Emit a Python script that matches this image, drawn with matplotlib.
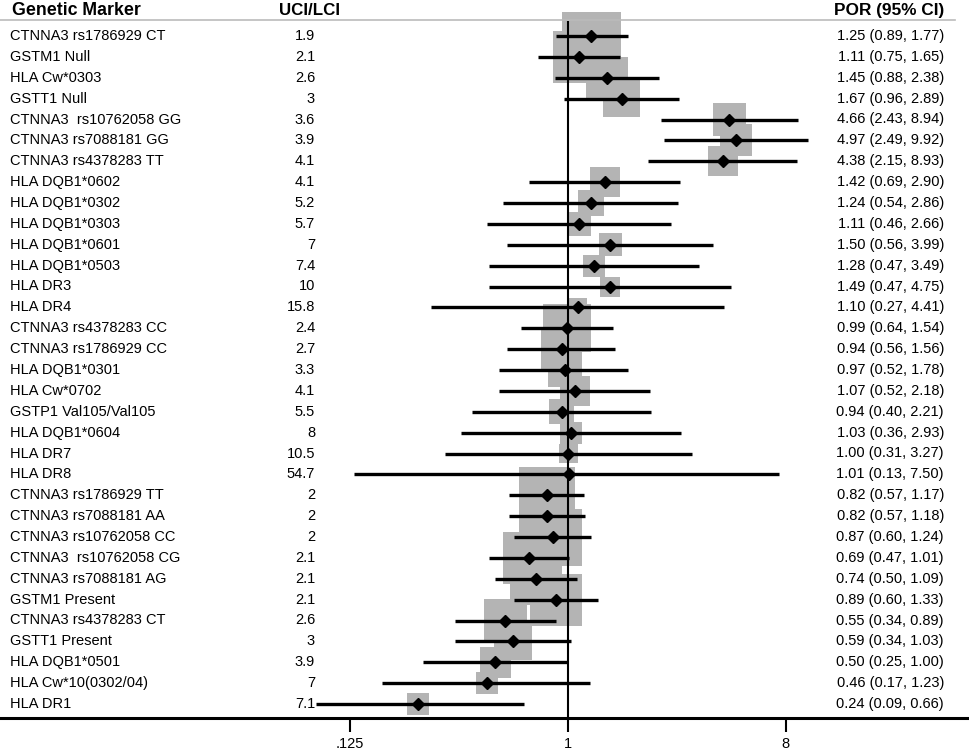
import numpy as np
import matplotlib
matplotlib.use("Agg")
import matplotlib.pyplot as plt
from matplotlib.lines import Line2D
import matplotlib.transforms as mtransforms

plt.rcParams['font.family'] = ['Liberation Sans', 'DejaVu Sans']

markers = ["CTNNA3 rs1786929 CT", "GSTM1 Null", "HLA Cw*0303", "GSTT1 Null",
           "CTNNA3  rs10762058 GG", "CTNNA3 rs7088181 GG", "CTNNA3 rs4378283 TT",
           "HLA DQB1*0602", "HLA DQB1*0302", "HLA DQB1*0303", "HLA DQB1*0601",
           "HLA DQB1*0503", "HLA DR3", "HLA DR4", "CTNNA3 rs4378283 CC",
           "CTNNA3 rs1786929 CC", "HLA DQB1*0301", "HLA Cw*0702", "GSTP1 Val105/Val105",
           "HLA DQB1*0604", "HLA DR7", "HLA DR8", "CTNNA3 rs1786929 TT",
           "CTNNA3 rs7088181 AA", "CTNNA3 rs10762058 CC", "CTNNA3  rs10762058 CG",
           "CTNNA3 rs7088181 AG", "GSTM1 Present", "CTNNA3 rs4378283 CT",
           "GSTT1 Present", "HLA DQB1*0501", "HLA Cw*10(0302/04)", "HLA DR1"]
ratio = ["1.9", "2.1", "2.6", "3", "3.6", "3.9", "4.1", "4.1", "5.2", "5.7", "7", "7.4",
         "10", "15.8", "2.4", "2.7", "3.3", "4.1", "5.5", "8", "10.5", "54.7", "2", "2",
         "2", "2.1", "2.1", "2.1", "2.6", "3", "3.9", "7", "7.1"]
por = [1.25, 1.11, 1.45, 1.67, 4.66, 4.97, 4.38, 1.42, 1.24, 1.11, 1.50, 1.28, 1.49, 1.10,
       0.99, 0.94, 0.97, 1.07, 0.94, 1.03, 1.00, 1.01, 0.82, 0.82, 0.87, 0.69, 0.74, 0.89,
       0.55, 0.59, 0.50, 0.46, 0.24]
lci = [0.89, 0.75, 0.88, 0.96, 2.43, 2.49, 2.15, 0.69, 0.54, 0.46, 0.56, 0.47, 0.47, 0.27,
       0.64, 0.56, 0.52, 0.52, 0.40, 0.36, 0.31, 0.13, 0.57, 0.57, 0.60, 0.47, 0.50, 0.60,
       0.34, 0.34, 0.25, 0.17, 0.09]
uci = [1.77, 1.65, 2.38, 2.89, 8.94, 9.92, 8.93, 2.90, 2.86, 2.66, 3.99, 3.49, 4.75, 4.41,
       1.54, 1.56, 1.78, 2.18, 2.21, 2.93, 3.27, 7.50, 1.17, 1.18, 1.24, 1.01, 1.09, 1.33,
       0.89, 1.03, 1.00, 1.23, 0.66]
# relative weight box side (pixels)
box_side = [59, 52, 42, 37, 33, 32, 30, 30, 26, 24, 23, 22, 20, 19, 48, 41, 34, 30, 25, 22,
            19, 5, 56, 56, 57, 52, 52, 52, 43, 38, 31, 22, 22]
xticks = [0.125, 1, 8]
xticklabels = [".125", "1", "8"]

W, H = 969, 752
fig = plt.figure(figsize=(W / 100, H / 100), dpi=100)
top_px, bot_px = 12, 718
ax = fig.add_axes([0, 1 - bot_px / H, 1, (bot_px - top_px) / H])

x1px, kpx = 568, 104.8
ax.set_xscale('log')
ax.set_xlim(np.exp(-x1px / kpx), np.exp((W - x1px) / kpx))
row0, dy = 36, 20.875
ax.set_ylim((bot_px - row0) / dy, (top_px - row0) / dy)

rows = np.arange(len(markers))

ax.scatter(por, rows, s=(np.array(box_side) * 0.72) ** 2, marker='s',
           color='#b4b4b4', linewidths=0, zorder=2)
ax.vlines(1, (21 - row0) / dy, (bot_px - row0) / dy, color='black', lw=1.5, zorder=3)
ax.hlines(rows, lci, uci, color='black', lw=2.4, zorder=3, capstyle='butt')
ax.plot(por, rows, 'D', ms=6.5, color='black', zorder=4, linestyle='none')

for s in ['top', 'left', 'right']:
    ax.spines[s].set_visible(False)
ax.spines['bottom'].set_linewidth(2.2)
ax.set_yticks([])
ax.set_xticks(xticks)
ax.set_xticklabels(xticklabels)
ax.minorticks_off()
ax.tick_params(axis='x', direction='out', length=10, width=1.5, pad=3.5, labelsize=10.5)

trans = mtransforms.blended_transform_factory(fig.transFigure, ax.transData)
fs = 10.5
for i in rows:
    ax.text(10 / W, i, markers[i], transform=trans, ha='left', va='center', fontsize=fs, clip_on=False)
    ax.text(315 / W, i, ratio[i], transform=trans, ha='right', va='center', fontsize=fs, clip_on=False)
    ax.text(944 / W, i, f"{por[i]:.2f} ({lci[i]:.2f}, {uci[i]:.2f})", transform=trans,
            ha='right', va='center', fontsize=fs, clip_on=False)

hy = 1 - 10.5 / H
fig.text(12 / W, hy, "Genetic Marker", ha='left', va='center', fontsize=12.8, fontweight='bold')
fig.text(279 / W, hy, "UCI/LCI", ha='left', va='center', fontsize=12.2, fontweight='bold')
fig.text(944 / W, hy, "POR (95% CI)", ha='right', va='center', fontsize=12.4, fontweight='bold')
fig.add_artist(Line2D([0, 955 / W], [1 - 20 / H] * 2, color='#bbbbbb', lw=1.2))

fig.savefig("out.png", dpi=100)
